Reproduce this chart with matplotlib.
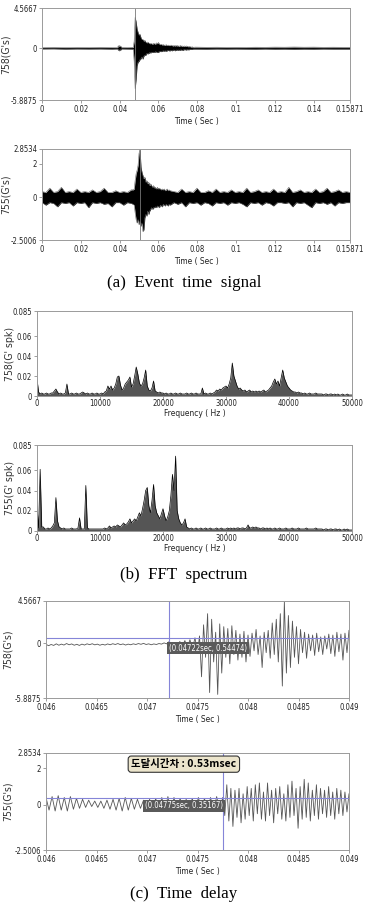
import numpy as np
import matplotlib.pyplot as plt
from matplotlib.transforms import blended_transform_factory

plt.rcParams['font.family'] = ['Liberation Sans Narrow', 'DejaVu Sans']
plt.rcParams['font.stretch'] = 'condensed'

# ---- (a) event time signal, envelope of the raw trace (G's)
# ch 758
s758_pre_t = [0, 0.006, 0.012, 0.018, 0.024, 0.030, 0.036, 0.039, 0.0393, 0.0396,
              0.0399, 0.0402, 0.0405, 0.041, 0.044, 0.0465]
s758_pre_hi = [0.08, 0.10, 0.07, 0.09, 0.08, 0.10, 0.08, 0.08, 0.28, 0.18,
               0.30, 0.20, 0.25, 0.09, 0.08, 0.10]
s758_pre_lo = [-0.08, -0.07, -0.10, -0.08, -0.09, -0.08, -0.10, -0.08, -0.25, -0.20,
               -0.32, -0.18, -0.22, -0.08, -0.09, -0.10]
# burst 0.047 .. 0.078 s, every 0.5 ms
s758_burst_hi = [0.10, 0.80, 3.50, 3.00, 2.20, 1.80, 1.50, 1.60, 1.20, 1.00,
                 1.00, 0.80, 0.90, 0.70, 0.60, 0.70, 0.60, 0.50, 0.55, 0.50,
                 0.45, 0.55, 0.50, 0.45, 0.60, 0.50, 0.65, 0.45, 0.40, 0.45,
                 0.35, 0.40, 0.35, 0.30, 0.40, 0.30, 0.35, 0.30, 0.30, 0.35,
                 0.30, 0.25, 0.30, 0.25, 0.30, 0.25, 0.30, 0.20, 0.25, 0.30,
                 0.20, 0.25, 0.20, 0.25, 0.20, 0.25, 0.20, 0.15, 0.20, 0.15,
                 0.12, 0.15, 0.10]
s758_burst_lo = [-0.10, -1.50, -4.60, -3.50, -2.00, -1.60, -1.50, -1.30, -1.20, -1.00,
                 -1.25, -0.90, -0.80, -0.80, -0.60, -0.65, -0.60, -0.50, -0.55, -0.45,
                 -0.50, -0.45, -0.50, -0.40, -0.45, -0.50, -0.45, -0.40, -0.35, -0.40,
                 -0.35, -0.30, -0.35, -0.30, -0.35, -0.30, -0.25, -0.30, -0.30, -0.25,
                 -0.30, -0.25, -0.20, -0.30, -0.25, -0.20, -0.25, -0.20, -0.25, -0.20,
                 -0.20, -0.25, -0.20, -0.15, -0.20, -0.20, -0.15, -0.20, -0.15, -0.12,
                 -0.15, -0.12, -0.10]
s758_post_t = [0.079, 0.085, 0.09, 0.095, 0.10, 0.105, 0.11, 0.115, 0.12, 0.125,
               0.13, 0.135, 0.14, 0.145, 0.15, 0.155, 0.15871]
s758_post_hi = [0.12, 0.10, 0.11, 0.09, 0.10, 0.09, 0.11, 0.10, 0.12, 0.11,
                0.13, 0.11, 0.12, 0.10, 0.11, 0.10, 0.10]
s758_post_lo = [-0.10, -0.11, -0.09, -0.10, -0.09, -0.10, -0.11, -0.09, -0.11, -0.10,
                -0.12, -0.10, -0.11, -0.09, -0.10, -0.10, -0.10]

# ch 755 : 0..0.046 (2 ms), 0.047..0.066 (0.5 ms), 0.068..end (2 ms)
s755_pre_hi = [0.35, 0.30, 0.55, 0.30, 0.35, 0.60, 0.30, 0.35, 0.30, 0.50,
               0.30, 0.35, 0.30, 0.45, 0.30, 0.35, 0.55, 0.30, 0.30, 0.40,
               0.30, 0.35, 0.30, 0.45]
s755_pre_lo = [-0.30, -0.45, -0.30, -0.35, -0.55, -0.30, -0.35, -0.30, -0.50, -0.30,
               -0.35, -0.30, -0.60, -0.30, -0.35, -0.30, -0.40, -0.35, -0.55, -0.30,
               -0.30, -0.45, -0.30, -0.35]
s755_burst_hi = [0.45, 0.50, 1.00, 1.40, 1.60, 1.90, 2.60, 2.85, 1.80, 1.50,
                 1.30, 1.10, 1.20, 0.90, 1.00, 0.80, 0.90, 0.70, 0.80, 0.70,
                 0.60, 0.70, 0.55, 0.60, 0.50, 0.60, 0.50, 0.55, 0.50, 0.45,
                 0.50, 0.45, 0.50, 0.40, 0.45, 0.50, 0.40, 0.45, 0.40]
s755_burst_lo = [-0.40, -0.45, -0.90, -1.30, -1.50, -1.30, -1.60, -1.40, -1.70, -1.50,
                 -2.00, -1.90, -1.20, -1.00, -1.10, -0.80, -1.00, -0.80, -0.70, -0.60,
                 -0.70, -0.60, -0.60, -0.55, -0.60, -0.50, -0.55, -0.60, -0.45, -0.50,
                 -0.55, -0.40, -0.45, -0.50, -0.40, -0.45, -0.50, -0.40, -0.45]
s755_post_hi = [0.35, 0.30, 0.50, 0.30, 0.35, 0.30, 0.55, 0.30, 0.30, 0.40,
                0.30, 0.50, 0.30, 0.35, 0.30, 0.45, 0.30, 0.35, 0.30, 0.55,
                0.30, 0.35, 0.45, 0.30, 0.35, 0.30, 0.50, 0.30, 0.35, 0.30,
                0.60, 0.30, 0.35, 0.45, 0.30, 0.35, 0.30, 0.50, 0.30, 0.35,
                0.55, 0.30, 0.35, 0.45, 0.30, 0.35, 0.30]
s755_post_lo = [-0.30, -0.40, -0.30, -0.55, -0.30, -0.35, -0.30, -0.45, -0.30, -0.35,
                -0.50, -0.30, -0.35, -0.30, -0.45, -0.30, -0.35, -0.30, -0.40, -0.55,
                -0.30, -0.35, -0.30, -0.45, -0.30, -0.35, -0.50, -0.30, -0.30, -0.35,
                -0.30, -0.55, -0.30, -0.35, -0.30, -0.45, -0.60, -0.30, -0.35, -0.30,
                -0.40, -0.30, -0.50, -0.30, -0.35, -0.30, -0.30]
sig_cursor = [0.0477, 0.0503]

# ---- (b) FFT spectrum, 0..50000 Hz every 250 Hz (G's pk)
fft758 = [0.017, 0.004, 0.002, 0.003, 0.002, 0.002, 0.003, 0.002, 0.002, 0.003,   # 0
          0.003, 0.005, 0.007, 0.004, 0.002, 0.003, 0.002, 0.002, 0.003, 0.012,
          0.002, 0.002, 0.003, 0.002, 0.002, 0.003, 0.002, 0.002, 0.003, 0.004,   # 5000
          0.003, 0.002, 0.003, 0.002, 0.002, 0.003, 0.002, 0.002, 0.003, 0.002,
          0.002, 0.003, 0.002, 0.004, 0.005, 0.010, 0.007, 0.010, 0.006, 0.008,   # 10000
          0.012, 0.019, 0.020, 0.011, 0.006, 0.008, 0.012, 0.014, 0.016, 0.019,
          0.009, 0.012, 0.020, 0.029, 0.022, 0.013, 0.010, 0.012, 0.018, 0.026,   # 15000
          0.010, 0.006, 0.005, 0.008, 0.015, 0.005, 0.004, 0.003, 0.004, 0.003,
          0.003, 0.002, 0.003, 0.002, 0.002, 0.003, 0.002, 0.002, 0.003, 0.002,   # 20000
          0.002, 0.003, 0.002, 0.002, 0.002, 0.003, 0.002, 0.002, 0.003, 0.002,
          0.002, 0.003, 0.002, 0.002, 0.002, 0.008, 0.002, 0.003, 0.002, 0.002,   # 25000
          0.003, 0.002, 0.003, 0.004, 0.006, 0.005, 0.007, 0.006, 0.008, 0.009,
          0.010, 0.008, 0.012, 0.018, 0.033, 0.020, 0.015, 0.010, 0.007, 0.008,   # 30000
          0.006, 0.005, 0.006, 0.004, 0.005, 0.006, 0.004, 0.005, 0.004, 0.005,
          0.004, 0.005, 0.004, 0.005, 0.006, 0.004, 0.005, 0.006, 0.008, 0.010,   # 35000
          0.014, 0.017, 0.012, 0.015, 0.010, 0.018, 0.026, 0.018, 0.014, 0.010,
          0.008, 0.006, 0.005, 0.004, 0.004, 0.003, 0.004, 0.003, 0.003, 0.002,   # 40000
          0.003, 0.002, 0.002, 0.003, 0.002, 0.002, 0.002, 0.003, 0.002, 0.002,
          0.002, 0.002, 0.001, 0.002, 0.002, 0.001, 0.002, 0.002, 0.001, 0.002,   # 45000
          0.001, 0.002, 0.001, 0.001, 0.002, 0.001, 0.001, 0.002, 0.001, 0.001,
          0.001]
fft755 = [0.025, 0.003, 0.061, 0.004, 0.004, 0.002, 0.002, 0.003, 0.002, 0.003,   # 0
          0.005, 0.008, 0.033, 0.010, 0.004, 0.003, 0.002, 0.003, 0.002, 0.002,
          0.002, 0.002, 0.003, 0.002, 0.002, 0.002, 0.003, 0.013, 0.002, 0.002,   # 5000
          0.002, 0.045, 0.003, 0.002, 0.002, 0.002, 0.002, 0.002, 0.002, 0.002,
          0.002, 0.002, 0.002, 0.003, 0.002, 0.003, 0.005, 0.003, 0.004, 0.005,   # 10000
          0.004, 0.006, 0.005, 0.004, 0.006, 0.008, 0.006, 0.007, 0.009, 0.012,
          0.008, 0.010, 0.012, 0.010, 0.014, 0.018, 0.015, 0.022, 0.030, 0.040,   # 15000
          0.043, 0.025, 0.018, 0.030, 0.046, 0.025, 0.018, 0.015, 0.012, 0.017,
          0.022, 0.015, 0.010, 0.014, 0.020, 0.035, 0.056, 0.040, 0.074, 0.020,   # 20000
          0.012, 0.008, 0.006, 0.008, 0.012, 0.004, 0.003, 0.002, 0.003, 0.002,
          0.002, 0.003, 0.002, 0.002, 0.003, 0.002, 0.002, 0.003, 0.002, 0.002,   # 25000
          0.003, 0.002, 0.002, 0.002, 0.003, 0.002, 0.002, 0.003, 0.002, 0.002,
          0.002, 0.003, 0.002, 0.003, 0.002, 0.003, 0.002, 0.003, 0.003, 0.002,   # 30000
          0.003, 0.003, 0.002, 0.003, 0.006, 0.003, 0.003, 0.004, 0.003, 0.004,
          0.003, 0.003, 0.002, 0.003, 0.003, 0.002, 0.003, 0.002, 0.003, 0.002,   # 35000
          0.002, 0.003, 0.002, 0.002, 0.003, 0.002, 0.002, 0.002, 0.003, 0.002,
          0.002, 0.002, 0.003, 0.002, 0.002, 0.002, 0.003, 0.002, 0.002, 0.002,   # 40000
          0.002, 0.003, 0.002, 0.002, 0.002, 0.002, 0.002, 0.003, 0.002, 0.002,
          0.002, 0.002, 0.001, 0.002, 0.002, 0.001, 0.002, 0.002, 0.001, 0.002,   # 45000
          0.002, 0.001, 0.002, 0.001, 0.001, 0.002, 0.001, 0.002, 0.001, 0.001,
          0.001]

# ---- (c) time delay, zoom of the arrival (G's), alternating peaks
w758_pre = [-0.10, -0.25, -0.12, -0.22, -0.05, -0.20, -0.08, -0.18, -0.02, -0.15,
            -0.06, -0.20, -0.10, -0.22, -0.08, -0.18, -0.05, -0.14, -0.04, -0.16,
            -0.08, -0.20, -0.10, -0.18, -0.06, -0.15, -0.04, -0.12, -0.02, -0.14,
            -0.06, -0.18, -0.08, -0.15, -0.05, -0.12, -0.02, -0.10, 0.00, -0.12,
            -0.05, -0.15, -0.06, -0.12, -0.02, -0.08, 0.05, -0.05, 0.20]
w758_mid = [-0.30, 0.10, -0.20, 0.20, -0.30, 0.30, -0.50, 0.40, -0.60, 0.60, -1.00]
w758_hit = [0.8, -3.6, 2.0, -1.5, 3.2, -5.3, 2.6, -2.0, 1.2, -5.5,
            2.1, -3.2, 1.8, -1.5, 1.6, -2.2, 1.9, -1.2, 1.4, -1.8,
            1.0, -1.5, 1.3, -2.0, 0.9, -1.4, 1.1, -0.8, 1.5, -1.2,
            0.8, -2.6, 1.2, -1.0, 1.4, -1.6, 2.2, -1.2, 2.6, -2.0,
            3.2, -4.6, 4.5, -3.2, 3.0, -2.6, 2.4, -1.5, 1.8, -2.2,
            1.5, -1.0, 1.2, -1.6, 1.0, -0.8, 0.9, -1.3, 1.1, -0.9,
            0.7, -1.2, 0.8, -0.6, 1.0, -1.1, 0.9, -1.4, 1.2, -0.9,
            1.0, -1.8, 1.1, -1.0, 1.4]
w755_pre = [0.40, -0.30, 0.45, -0.35, 0.50, -0.30, 0.40, -0.35, 0.45, -0.25,
            0.35, -0.20, 0.30, -0.15, 0.25, -0.10, 0.20, -0.15, 0.20, -0.20,
            0.25, -0.25, 0.30, -0.30, 0.35, -0.35, 0.40, -0.30, 0.35, -0.25,
            0.30, -0.20, 0.25, -0.20, 0.30, -0.25, 0.35, -0.30, 0.40, -0.35,
            0.45, -0.30, 0.40, -0.25, 0.35, -0.20, 0.30, -0.25, 0.35, -0.30,
            0.40, -0.25, 0.35, -0.30, 0.40, -0.35, 0.45, -0.30, 0.40]
w755_hit = [-0.6, 1.1, -0.9, 0.9, -1.2, 0.8, -0.7, 0.9, -1.0, 0.6,
            -0.8, 1.0, -0.6, 0.9, -0.9, 1.1, -0.5, 1.2, -0.8, 0.7,
            -0.9, 1.2, -0.6, 0.8, -1.0, 0.9, -0.5, 1.0, -0.8, 0.6,
            -0.9, 1.1, -0.7, 1.3, -0.6, 0.9, -1.3, 1.0, -0.8, 1.4,
            -0.7, 1.2, -0.9, 0.8, -0.6, 1.1, -0.8, 0.9, -0.5, 0.8,
            -0.7, 1.0, -0.6, 0.7, -0.8, 0.9, -0.5, 0.8, -0.6, 0.7,
            -0.4, 0.6]
cursor_t = [0.04722, 0.04775]
cursor_v = [0.54474, 0.35167]
delay_text = '도달시간차 : 0.53msec'

# axis ranges / ticks
lim758 = (-5.8875, 4.5667)
lim755 = (-2.5006, 2.8534)
ticks_t = [0, 0.02, 0.04, 0.06, 0.08, 0.1, 0.12, 0.14, 0.15871]
ticks_f = [0, 10000, 20000, 30000, 40000, 50000]
ticks_z = [0.046, 0.0465, 0.047, 0.0475, 0.048, 0.0485, 0.049]
ticks_a = [0, 0.02, 0.04, 0.06, 0.085]

W, H = 368, 911
fig = plt.figure(figsize=(W / 100, H / 100), dpi=100)


def box(l, t, r, b):
    return [l / W, 1 - b / H, (r - l) / W, (b - t) / H]


def style(ax, xt, xl, yt, yl, xlabel, ylabel, ylab_x):
    for s in ax.spines.values():
        s.set_color('#9a9a9a')
        s.set_linewidth(0.7)
    ax.set_xticks(xt)
    ax.set_xticklabels(xl)
    ax.set_yticks(yt)
    ax.set_yticklabels(yl)
    ax.tick_params(labelsize=5.5, length=2, width=0.5, pad=1.5,
                   color='#777777', labelcolor='#222222')
    ax.set_xlabel(xlabel, fontsize=6, labelpad=2.5, color='#222222')
    ax.set_ylabel(ylabel, fontsize=7.5, color='#333333')
    ax.yaxis.set_label_coords(ylab_x, 0.5)


def envelope(ax, t, hi, lo):
    ax.fill_between(t, lo, hi, color='black', lw=0)
    ax.plot(t, hi, color='#666666', lw=0.4)
    ax.plot(t, lo, color='#666666', lw=0.4)


tl = ['0', '0.02', '0.04', '0.06', '0.08', '0.1', '0.12', '0.14', '0.15871']

# panel 1
ax1 = fig.add_axes(box(42, 8, 350, 100))
t = np.concatenate([s758_pre_t, np.linspace(0.047, 0.078, len(s758_burst_hi)), s758_post_t])
envelope(ax1, t, np.concatenate([s758_pre_hi, s758_burst_hi, s758_post_hi]),
         np.concatenate([s758_pre_lo, s758_burst_lo, s758_post_lo]))
ax1.axvline(sig_cursor[0], color='#777777', lw=0.6)
ax1.set_xlim(0, 0.15871)
ax1.set_ylim(*lim758)
style(ax1, ticks_t, tl, [lim758[0], 0, lim758[1]], ['-5.8875', '0', '4.5667'],
      'Time ( Sec )', '758(G\'s)', -0.1)

# panel 2
ax2 = fig.add_axes(box(42, 149, 350, 240))
t = np.concatenate([np.linspace(0, 0.046, len(s755_pre_hi)),
                    np.linspace(0.047, 0.066, len(s755_burst_hi)),
                    np.linspace(0.068, 0.15871, len(s755_post_hi))])
envelope(ax2, t, np.concatenate([s755_pre_hi, s755_burst_hi, s755_post_hi]),
         np.concatenate([s755_pre_lo, s755_burst_lo, s755_post_lo]))
ax2.axvline(sig_cursor[1], color='#777777', lw=0.6)
ax2.set_xlim(0, 0.15871)
ax2.set_ylim(*lim755)
style(ax2, ticks_t, tl, [lim755[0], 0, 2, lim755[1]], ['-2.5006', '0', '2', '2.8534'],
      'Time ( Sec )', '755(G\'s)', -0.1)

# panels 3, 4
fl = [str(v) for v in ticks_f]
al = ['0', '0.02', '0.04', '0.06', '0.085']
for spec, pos, lab in [(fft758, (37, 311, 352, 396), '758(G\' spk)'),
                       (fft755, (37, 445, 352, 531), '755(G\' spk)')]:
    ax = fig.add_axes(box(*pos))
    f = np.linspace(0, 50000, len(spec))
    ax.fill_between(f, 0, spec, color='#555555', lw=0)
    ax.plot(f, spec, color='black', lw=0.5)
    ax.set_xlim(0, 50000)
    ax.set_ylim(0, 0.085)
    style(ax, ticks_f, fl, ticks_a, al, 'Frequency ( Hz )', lab, -0.07)
    ax.tick_params(axis='x', pad=0.5)
    ax.xaxis.labelpad = 0.5

# panels 5, 6
zl = ['0.046', '0.0465', '0.047', '0.0475', '0.048', '0.0485', '0.049']
ax5 = fig.add_axes(box(46, 601, 349, 698))
t5 = np.concatenate([np.linspace(0.046, 0.04722, len(w758_pre)),
                     np.linspace(0.04725, 0.0475, len(w758_mid)),
                     np.linspace(0.04752, 0.049, len(w758_hit))])
ax5.plot(t5, np.concatenate([w758_pre, w758_mid, w758_hit]), color='#555555', lw=0.6)
ax5.set_xlim(0.046, 0.049)
ax5.set_ylim(*lim758)
style(ax5, ticks_z, zl, [lim758[0], 0, lim758[1]], ['-5.8875', '0', '4.5667'],
      'Time ( Sec )', '758(G\'s)', -0.11)

ax6 = fig.add_axes(box(46, 753, 349, 850))
t6 = np.concatenate([np.linspace(0.046, 0.04775, len(w755_pre)),
                     np.linspace(0.04777, 0.049, len(w755_hit))])
ax6.plot(t6, np.concatenate([w755_pre, w755_hit]), color='#555555', lw=0.6)
ax6.set_xlim(0.046, 0.049)
ax6.set_ylim(*lim755)
style(ax6, ticks_z, zl, [lim755[0], 0, 2, lim755[1]], ['-2.5006', '0', '2', '2.8534'],
      'Time ( Sec )', '755(G\'s)', -0.11)

for ax, ct, cv, ha, yy in [(ax5, cursor_t[0], cursor_v[0], 'left', 0.515),
                           (ax6, cursor_t[1], cursor_v[1], 'right', 0.454)]:
    ax.axvline(ct, color='#8585d8', lw=0.8)
    ax.axhline(cv, color='#8585d8', lw=0.8)
    tr = blended_transform_factory(ax.transData, ax.transAxes)
    ax.text(ct, yy, '(%.5fsec, %.5f)' % (ct, cv), transform=tr, ha=ha, va='center',
            fontsize=5.5, color='white',
            bbox=dict(boxstyle='square,pad=0.25', fc='#5a5a5a', ec='none'))

ax6.text(0.455, 0.885, delay_text, transform=ax6.transAxes, ha='center', va='center',
         fontsize=7.5, fontweight='bold', family=['Noto Sans CJK KR', 'DejaVu Sans'],
         bbox=dict(boxstyle='round,pad=0.3,rounding_size=0.3', fc='#ece5cc', ec='#333333', lw=0.8))

# captions
cap = dict(ha='center', va='center', fontsize=12.2, stretch='normal',
           family=['Liberation Serif', 'DejaVu Serif'])
fig.text(0.5, 1 - 283 / H, '(a)  Event  time  signal', **cap)
fig.text(0.5, 1 - 575 / H, '(b)  FFT  spectrum', **cap)
fig.text(0.5, 1 - 894 / H, '(c)  Time  delay', **cap)

fig.savefig('out.png', dpi=100, facecolor='white')
